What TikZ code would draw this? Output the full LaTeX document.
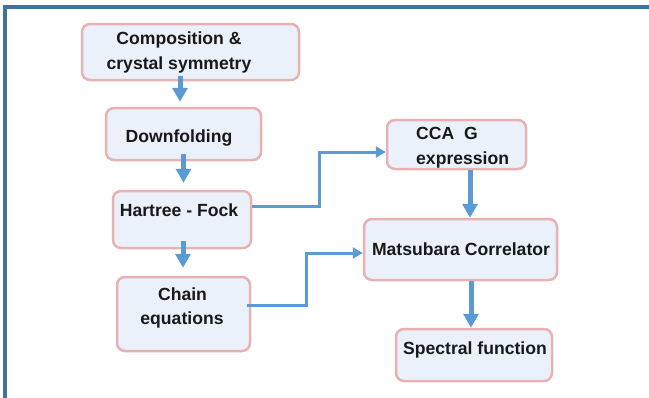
\documentclass[tikz,border=0pt]{standalone}
\usepackage{fontspec}
\setmainfont{Liberation Sans}
\usetikzlibrary{arrows.meta,calc}
\definecolor{framecol}{HTML}{41719C}
\definecolor{boxfill}{HTML}{EAF1FA}
\definecolor{boxline}{HTML}{E8B2B2}
\definecolor{arrowcol}{HTML}{5B9BD5}
\tikzset{
  box/.style={draw=boxline, fill=boxfill, line width=2.5pt, rounded corners=8pt, inner sep=0pt},
  lbl/.style={font=\fontsize{17.6}{25}\selectfont\bfseries, text=black!90, inner sep=0pt, anchor=base},
  bigarrow/.style={draw=arrowcol, line width=5pt, -{Triangle[width=15pt,length=14pt]}},
  thinarrow/.style={draw=arrowcol, line width=3pt, -{Triangle[width=11pt,length=10pt]}},
}
\begin{document}
\begin{tikzpicture}[x=1pt,y=-1pt]
\useasboundingbox (0,0) rectangle (649,397);
% frame
\draw[framecol, line width=4pt] (5,400) -- (5,7) -- (652,7);
% boxes
\node[box, minimum width=217pt, minimum height=56pt] (b1) at (190.5,52) {};
\node[box, minimum width=155pt, minimum height=52pt] (b2) at (183.5,134) {};
\node[box, minimum width=138pt, minimum height=57pt] (b3) at (182,219.5) {};
\node[box, minimum width=133pt, minimum height=74pt] (b4) at (183.5,314) {};
\node[box, minimum width=139pt, minimum height=49pt] (b5) at (456.5,144.5) {};
\node[box, minimum width=193pt, minimum height=61pt] (b6) at (460.5,249.5) {};
\node[box, minimum width=156pt, minimum height=52pt] (b7) at (474,355) {};
% texts
\node[lbl] (t1a) at (179,44) {Composition \&};
\node[lbl] (t1b) at (179,69) {crystal symmetry};
\node[lbl] (t2) at (179,142) {Downfolding};
\node[lbl] (t3) at (179,216) {Hartree - Fock};
\node[lbl] (t4a) at (182.5,300) {Chain};
\node[lbl] (t4b) at (182,324) {equations};
\node[lbl, anchor=base west] (t5a) at (416,139) {CCA\ \ G};
\node[lbl, anchor=base west] (t5b) at (416,164) {expression};
\node[lbl] (t6) at (461,255) {Matsubara Correlator};
\node[lbl] (t7) at (475,354) {Spectral function};
% coordinates for connector bends
\coordinate (k1) at (319,152);
\coordinate (k2) at (306,253);
% vertical arrows
\draw[bigarrow] ([xshift=-10.5pt,yshift=5pt]b1.south) -- ([xshift=-10.5pt,yshift=5pt]b1.south |- b2.north);
\draw[bigarrow] ([yshift=7pt]b2.south) -- ([yshift=7pt]b2.south |- b3.north);
\draw[bigarrow] ([xshift=1pt,yshift=8pt]b3.south) -- ([xshift=1pt,yshift=8pt]b3.south |- b4.north);
\draw[bigarrow] ([xshift=13.5pt]b5.south) -- ([xshift=13.5pt]b5.south |- b6.north);
\draw[bigarrow] ([xshift=10.5pt]b6.south) -- ([xshift=10.5pt]b6.south |- b7.north);
% elbow connectors
\draw[thinarrow] ([yshift=13.5pt]b3.east) -| (k1) -- (k1 -| b5.west);
\draw[thinarrow] ([xshift=-4pt,yshift=9pt]b4.east) -| (k2) -- (k2 -| b6.west);
\end{tikzpicture}
\end{document}
